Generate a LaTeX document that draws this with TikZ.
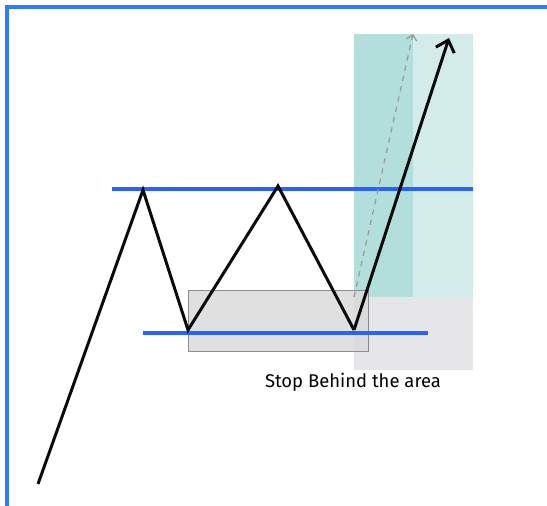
\documentclass[tikz,border=0pt]{standalone}
\usepackage{fontspec}
\setmainfont{Fira Sans}
\usetikzlibrary{arrows.meta,positioning,calc}
\definecolor{ChartBlue}{HTML}{2962FF}
\definecolor{FrameBlue}{HTML}{2E7BFF}
\definecolor{TealDark}{HTML}{B2DFDB}
\definecolor{TealLight}{HTML}{D3ECEA}
\definecolor{StopGrey}{HTML}{E6E6E9}
\definecolor{BoxGrey}{HTML}{DADADA}
\definecolor{PathInk}{HTML}{0A0A0A}

\begin{document}
\begin{tikzpicture}[x=0.02cm,y=-0.02cm]
\tikzset{lvl/.style={ChartBlue,line width=2pt},px/.style={PathInk,line width=1.7pt,line join=miter},lbl/.style={font=\fontsize{10.5}{12}\selectfont,inner sep=0pt}}
\useasboundingbox (0,0) rectangle (547,506);
\draw[FrameBlue,line width=2.3pt] (7,506) -- (7,7) -- (547,7);
% target and stop zones
\fill[TealDark] (354,34) rectangle (413,297);
\fill[TealLight] (413,34) rectangle (473,297);
\fill[StopGrey] (354,297) rectangle (473,370);
\filldraw[fill=BoxGrey,fill opacity=.85,draw=black!45,line width=.5pt] (188,290) rectangle (368,351);
% levels
\draw[lvl] (112,189) -- (473,189);
\draw[lvl] (143,333) -- (428,333);
% price path
\coordinate (p0) at (38,484);
\coordinate (p1) at (143,190);
\coordinate (p2) at (188,330);
\coordinate (p3) at (278,186);
\coordinate (p4) at (354,330);
\coordinate (p5) at (449,38);
\coordinate (d0) at (354,297);
\coordinate (d1) at (413,34);
\draw[black!40,dashed,line width=.7pt,-{Straight Barb[length=3pt,width=6pt]}] (d0) -- (d1);
\draw[px] (p0) -- (p1) -- (p2) -- (p3) -- (p4);
\draw[px,-{Straight Barb[length=6pt,width=11pt,line width=1.7pt]}] (p4) -- (p5);
\node[lbl] (stop) at (353,382) {Stop Behind the area};
\end{tikzpicture}
\end{document}
